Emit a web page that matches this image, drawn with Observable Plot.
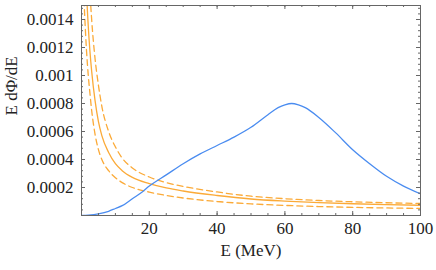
<!DOCTYPE html>
<html>
<head>
<meta charset="utf-8">
<script src="https://cdn.jsdelivr.net/npm/d3@7"></script>
<script src="https://cdn.jsdelivr.net/npm/@observablehq/plot@0.6"></script>
<style>
  html, body { margin: 0; padding: 0; background: #fff; }
</style>
</head>
<body>
<div id="chart"></div>
<script>
// ---- data ----
const energyBlue = [0, 2, 5, 8, 10, 12, 15, 18, 20, 25, 30, 35, 40, 45, 50, 55, 58, 60, 62, 64, 66, 70, 75, 80, 85, 90, 95, 100];
const fluxBlue   = [0, 0.000003, 0.000012, 0.00003, 0.00005, 0.00007, 0.00012, 0.00017, 0.00021, 0.00029, 0.00037, 0.00044, 0.0005, 0.00056, 0.00063, 0.00072, 0.00077, 0.00079, 0.0008, 0.00079, 0.00077, 0.0007, 0.00059, 0.00047, 0.00037, 0.00028, 0.00021, 0.000155];

const energyOrange = [0.5, 0.7, 1, 1.2, 1.5, 2, 2.5, 3, 4, 5, 6, 8, 10, 12, 15, 20, 25, 30, 40, 50, 60, 70, 80, 90, 100];
const fluxCentral  = [0.005, 0.0035, 0.0021, 0.00185, 0.0016, 0.00135, 0.00117, 0.00103, 0.00082, 0.00067, 0.00057, 0.00045, 0.00037, 0.00032, 0.000272, 0.000228, 0.000197, 0.000175, 0.000143, 0.000118, 0.000103, 0.000092, 0.000084, 0.000078, 0.000073];
const fluxUpper    = [0.007, 0.005, 0.0035, 0.003, 0.0025, 0.0019, 0.0016, 0.0014, 0.00112, 0.00093, 0.00078, 0.0006, 0.00049, 0.00041, 0.00034, 0.000275, 0.000235, 0.000208, 0.000168, 0.000138, 0.00012, 0.000107, 0.000098, 0.000091, 0.000086];
const fluxLower    = [0.0019, 0.0016, 0.0014, 0.0013, 0.00117, 0.001, 0.00087, 0.00075, 0.00058, 0.00047, 0.0004, 0.00032, 0.00027, 0.000235, 0.0002, 0.000167, 0.000143, 0.000125, 0.0001, 0.000083, 0.000072, 0.000064, 0.000058, 0.000054, 0.00005];

const xMajorTicks = [0, 20, 40, 60, 80, 100];
const xTickLabels = [20, 40, 60, 80, 100];
const xMinorTicks = d3.range(0, 101, 5);
const yMajorTicks = [0, 0.0002, 0.0004, 0.0006, 0.0008, 0.001, 0.0012, 0.0014];
const yTickLabels = ["0.0002", "0.0004", "0.0006", "0.0008", "0.001", "0.0012", "0.0014"];
const yMinorTicks = d3.range(0, 0.00151, 0.00004);
const xTitle = "E (MeV)";
const yTitle = "E dΦ/dE";

// ---- build tables ----
const blue = energyBlue.map((e, i) => ({E: e, v: fluxBlue[i]}));
const central = energyOrange.map((e, i) => ({E: e, v: fluxCentral[i]}));
const upper = energyOrange.map((e, i) => ({E: e, v: fluxUpper[i]}));
const lower = energyOrange.map((e, i) => ({E: e, v: fluxLower[i]}));

const W = 436, H = 270;
const mL = 81, mR = 16, mT = 5, mB = 55;
const innerH = H - mT - mB;
const innerW = W - mL - mR;
const blueC = "#4a8cf0";
const orangeC = "#fbaa38";
const frameC = "#666";
const majorLen = 4, minorLen = 2;
const serif = "serif";
const fs = 17;

const chart = Plot.plot({
  width: W,
  height: H,
  marginLeft: mL,
  marginRight: mR,
  marginTop: mT,
  marginBottom: mB,
  style: {fontFamily: "serif", fontSize: "17px", background: "#fff", color: "#222"},
  x: {domain: [0, 100], axis: null},
  y: {domain: [0, 0.0015], axis: null},
  marks: [
    Plot.line(lower, {x: "E", y: "v", stroke: orangeC, strokeWidth: 1.3, strokeDasharray: "6,4", curve: "monotone-x", clip: true}),
    Plot.line(upper, {x: "E", y: "v", stroke: orangeC, strokeWidth: 1.3, strokeDasharray: "6,4", curve: "monotone-x", clip: true}),
    Plot.line(central, {x: "E", y: "v", stroke: orangeC, strokeWidth: 1.3, curve: "monotone-x", clip: true}),
    Plot.line(blue, {x: "E", y: "v", stroke: blueC, strokeWidth: 1.3, curve: "monotone-x", clip: true}),
    Plot.tickX(xMajorTicks, {x: d => d, stroke: frameC, insetTop: innerH - majorLen}),
    Plot.tickX(xMinorTicks, {x: d => d, stroke: frameC, insetTop: innerH - minorLen}),
    Plot.tickX(xMajorTicks, {x: d => d, stroke: frameC, insetBottom: innerH - majorLen}),
    Plot.tickX(xMinorTicks, {x: d => d, stroke: frameC, insetBottom: innerH - minorLen}),
    Plot.tickY(yMajorTicks, {y: d => d, stroke: frameC, insetRight: innerW - majorLen}),
    Plot.tickY(yMinorTicks, {y: d => d, stroke: frameC, insetRight: innerW - minorLen}),
    Plot.tickY(yMajorTicks, {y: d => d, stroke: frameC, insetLeft: innerW - majorLen}),
    Plot.tickY(yMinorTicks, {y: d => d, stroke: frameC, insetLeft: innerW - minorLen}),
    Plot.frame({stroke: frameC, strokeWidth: 1}),
    Plot.text(xTickLabels, {x: d => d, frameAnchor: "bottom", dy: 18, text: d => String(d), fill: "#222", fontFamily: serif, fontSize: fs}),
    Plot.text(yTickLabels, {y: d => +d, frameAnchor: "left", dx: -8, textAnchor: "end", text: d => d, fill: "#222", fontFamily: serif, fontSize: fs}),
    Plot.text([xTitle], {frameAnchor: "bottom", dy: 40, text: d => d, fill: "#222", fontFamily: serif, fontSize: fs}),
    Plot.text([yTitle], {frameAnchor: "left", dx: -70, dy: 5, rotate: -90, text: d => d, fill: "#222", fontFamily: serif, fontSize: fs})
  ]
});
document.getElementById("chart").appendChild(chart);
</script>
</body>
</html>
